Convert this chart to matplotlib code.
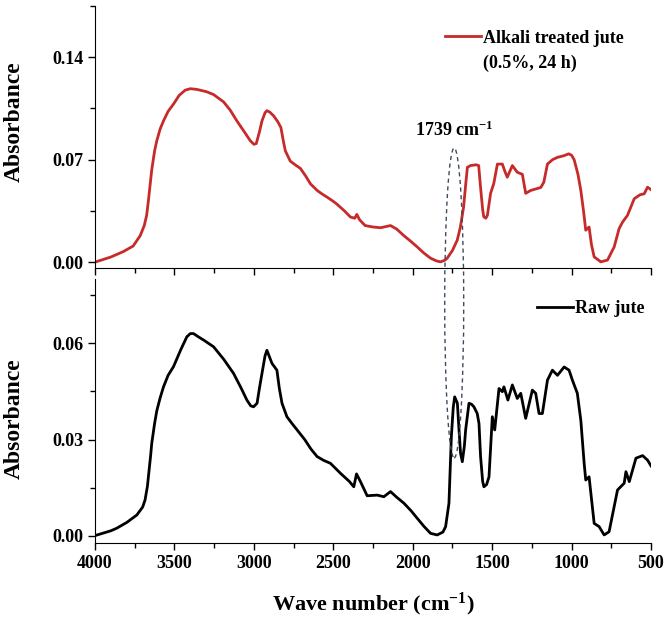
import matplotlib
matplotlib.use('Agg')
import matplotlib.pyplot as plt
from matplotlib.patches import Ellipse
from matplotlib.ticker import MultipleLocator, FormatStrFormatter

# FTIR spectra (10 values per line)
treated_wn = [4000, 3900, 3822, 3760, 3716, 3690, 3675, 3664, 3643, 3625,
              3611, 3590, 3569, 3540, 3506, 3470, 3432, 3400, 3359, 3300,
              3254, 3191, 3150, 3107, 3060, 3023, 3000, 2985, 2965, 2949,
              2930, 2918, 2900, 2876, 2850, 2830, 2815, 2802, 2771, 2740,
              2707, 2675, 2644, 2602, 2570, 2539, 2500, 2476, 2430, 2392,
              2365, 2352, 2335, 2300, 2250, 2203, 2160, 2140, 2100, 2058,
              2010, 1972, 1930, 1888, 1850, 1825, 1800, 1783, 1750, 1720,
              1700, 1680, 1665, 1656, 1636, 1600, 1585, 1573, 1560, 1553,
              1540, 1530, 1510, 1490, 1467, 1436, 1420, 1405, 1373, 1342,
              1310, 1289, 1257, 1194, 1175, 1152, 1120, 1089, 1049, 1018,
              1000, 984, 960, 942, 925, 911, 890, 875, 858, 816,
              774, 732, 701, 679, 648, 606, 570, 543, 522, 500]
treated_abs = [0.0000, 0.0035, 0.0072, 0.0110, 0.0180, 0.0250, 0.0320, 0.0420, 0.0630, 0.0760,
               0.0830, 0.0910, 0.0965, 0.1030, 0.1080, 0.1140, 0.1175, 0.1185, 0.1180, 0.1165,
               0.1145, 0.1095, 0.1040, 0.0965, 0.0890, 0.0830, 0.0805, 0.0810, 0.0890, 0.0965,
               0.1020, 0.1035, 0.1025, 0.1000, 0.0960, 0.0920, 0.0830, 0.0760, 0.0690, 0.0665,
               0.0640, 0.0590, 0.0535, 0.0490, 0.0465, 0.0444, 0.0415, 0.0395, 0.0350, 0.0308,
               0.0300, 0.0326, 0.0290, 0.0250, 0.0240, 0.0235, 0.0245, 0.0250, 0.0225, 0.0183,
               0.0140, 0.0104, 0.0062, 0.0027, 0.0008, 0.0002, 0.0012, 0.0027, 0.0080, 0.0150,
               0.0240, 0.0376, 0.0550, 0.0648, 0.0660, 0.0665, 0.0660, 0.0510, 0.0360, 0.0310,
               0.0300, 0.0320, 0.0470, 0.0537, 0.0670, 0.0670, 0.0620, 0.0580, 0.0660, 0.0614,
               0.0600, 0.0470, 0.0490, 0.0510, 0.0546, 0.0670, 0.0700, 0.0716, 0.0727, 0.0740,
               0.0730, 0.0700, 0.0600, 0.0490, 0.0350, 0.0218, 0.0240, 0.0120, 0.0036, 0.0002,
               0.0014, 0.0104, 0.0229, 0.0274, 0.0320, 0.0433, 0.0460, 0.0467, 0.0512, 0.0495]

raw_wn = [4000, 3900, 3863, 3800, 3737, 3700, 3685, 3670, 3664, 3650,
          3643, 3625, 3611, 3590, 3569, 3540, 3506, 3460, 3422, 3400,
          3380, 3350, 3317, 3254, 3190, 3128, 3080, 3044, 3020, 3002,
          2980, 2965, 2949, 2930, 2918, 2900, 2886, 2855, 2840, 2823,
          2792, 2760, 2728, 2680, 2640, 2602, 2560, 2518, 2455, 2400,
          2371, 2354, 2329, 2287, 2224, 2182, 2140, 2100, 2056, 2010,
          1972, 1930, 1888, 1846, 1810, 1793, 1772, 1757, 1745, 1736,
          1719, 1710, 1699, 1688, 1675, 1667, 1646, 1630, 1615, 1594,
          1583, 1573, 1560, 1552, 1535, 1520, 1499, 1484, 1457, 1436,
          1426, 1401, 1373, 1342, 1320, 1289, 1247, 1226, 1205, 1184,
          1152, 1121, 1089, 1047, 1016, 995, 964, 942, 921, 911,
          890, 858, 827, 795, 764, 711, 669, 658, 637, 595,
          553, 522, 500]
raw_abs = [0.0001, 0.0016, 0.0024, 0.0042, 0.0065, 0.0090, 0.0112, 0.0155, 0.0184, 0.0250,
           0.0288, 0.0350, 0.0390, 0.0430, 0.0464, 0.0500, 0.0527, 0.0580, 0.0620, 0.0630,
           0.0630, 0.0620, 0.0610, 0.0589, 0.0550, 0.0506, 0.0460, 0.0423, 0.0405, 0.0402,
           0.0413, 0.0460, 0.0506, 0.0560, 0.0578, 0.0555, 0.0537, 0.0516, 0.0460, 0.0413,
           0.0371, 0.0350, 0.0330, 0.0300, 0.0270, 0.0247, 0.0235, 0.0226, 0.0195, 0.0170,
           0.0153, 0.0193, 0.0169, 0.0125, 0.0127, 0.0122, 0.0138, 0.0120, 0.0102, 0.0078,
           0.0055, 0.0030, 0.0008, 0.0003, 0.0012, 0.0029, 0.0102, 0.0309, 0.0400, 0.0433,
           0.0413, 0.0340, 0.0257, 0.0231, 0.0280, 0.0330, 0.0413, 0.0410, 0.0402, 0.0381,
           0.0350, 0.0247, 0.0170, 0.0153, 0.0160, 0.0184, 0.0371, 0.0330, 0.0459, 0.0449,
           0.0464, 0.0423, 0.0470, 0.0428, 0.0444, 0.0366, 0.0454, 0.0444, 0.0381, 0.0381,
           0.0485, 0.0516, 0.0500, 0.0526, 0.0516, 0.0485, 0.0444, 0.0360, 0.0226, 0.0174,
           0.0184, 0.0039, 0.0029, 0.0003, 0.0013, 0.0143, 0.0164, 0.0200, 0.0169, 0.0242,
           0.0250, 0.0236, 0.0218]

peak = 1739

plt.rcParams['font.family'] = ['Liberation Serif', 'DejaVu Serif']
plt.rcParams['font.weight'] = 'bold'
plt.rcParams['mathtext.fontset'] = 'custom'
plt.rcParams['mathtext.rm'] = 'Liberation Serif:bold'
plt.rcParams['mathtext.bf'] = 'Liberation Serif:bold'
plt.rcParams['mathtext.it'] = 'Liberation Serif:bold'

fig = plt.figure(figsize=(6.72, 6.31), dpi=100)
ax1 = fig.add_axes([0.1414, 0.5753, 0.8274, 0.4152])
ax2 = fig.add_axes([0.1414, 0.1395, 0.8274, 0.4184])

red = '#c62a2a'
l1, = ax1.plot(treated_wn, treated_abs, color=red, lw=2, solid_joinstyle='round')
l2, = ax2.plot(raw_wn, raw_abs, color='black', lw=2, solid_joinstyle='round')

for ax in (ax1, ax2):
    ax.set_xlim(4000, 500)
    ax.spines['top'].set_visible(False)
    ax.spines['right'].set_visible(False)
    ax.xaxis.set_major_locator(MultipleLocator(500))
    ax.xaxis.set_minor_locator(MultipleLocator(250))
    ax.tick_params(which='major', direction='out', length=5, width=1, labelsize=13)
    ax.tick_params(which='minor', direction='out', length=3.5, width=1)
    ax.yaxis.set_major_formatter(FormatStrFormatter('%.2f'))

ax1.set_ylim(-0.004, 0.175)
ax1.yaxis.set_major_locator(MultipleLocator(0.07))
ax1.yaxis.set_minor_locator(MultipleLocator(0.035))
ax1.tick_params(axis='x', labelbottom=False)

ax2.set_ylim(-0.0022, 0.08)
ax2.yaxis.set_major_locator(MultipleLocator(0.03))
ax2.yaxis.set_minor_locator(MultipleLocator(0.015))

ax1.set_ylabel('Absorbance', fontsize=17, fontweight='bold')
ax2.set_ylabel('Absorbance', fontsize=17, fontweight='bold')
ax1.yaxis.set_label_coords(-0.126, 0.56)
ax2.yaxis.set_label_coords(-0.126, 0.47)
ax2.set_xlabel('Wave number (cm$^{-1}$)', fontsize=16, fontweight='bold', labelpad=14)

# legends
ax1.legend([l1], ['Alkali treated jute'], loc='upper left', bbox_to_anchor=(0.629, 0.91),
           frameon=False, handlelength=2.0, handletextpad=0.1, borderpad=0, borderaxespad=0,
           prop={'size': 13, 'weight': 'bold'})
ax1.text(0.698, 0.782, '(0.5%, 24 h)', transform=ax1.transAxes, fontsize=13,
         fontweight='bold', va='center', ha='left')
ax2.legend([l2], ['Raw jute'], loc='upper left', bbox_to_anchor=(0.795, 0.92),
           frameon=False, handlelength=2.0, handletextpad=0.1, borderpad=0, borderaxespad=0,
           prop={'size': 13, 'weight': 'bold'})

# dashed ellipse marking the 1739 cm-1 band across both panels
ax1.text(peak, 0.09, '1739 cm$^{-1}$', fontsize=13, fontweight='bold', ha='center', va='center')
inv = fig.transFigure.inverted()
top = inv.transform(ax1.transData.transform((peak, 0.078)))
bot = inv.transform(ax2.transData.transform((peak, 0.0243)))
ell = Ellipse(((top[0] + bot[0]) / 2, (top[1] + bot[1]) / 2), width=19 / 672,
              height=top[1] - bot[1], transform=fig.transFigure, fill=False,
              ls=(0, (3, 2.5)), lw=1, edgecolor='#3d4b5c')
fig.add_artist(ell)

fig.savefig('out.png', dpi=100)
